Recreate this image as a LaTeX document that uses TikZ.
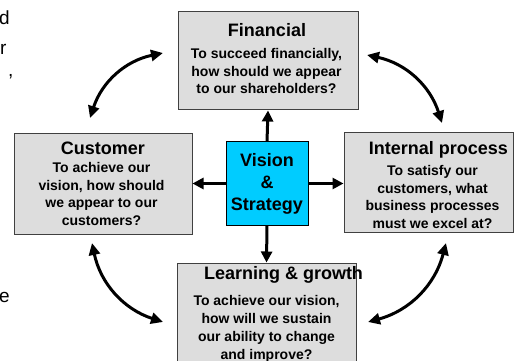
\documentclass[tikz,border=0pt]{standalone}
\usepackage{fontspec}
\setmainfont{Liberation Sans}
\usetikzlibrary{arrows.meta}

\definecolor{boxgray}{HTML}{DDDDDD}
\definecolor{boxline}{HTML}{404040}
\definecolor{visioncyan}{HTML}{00CCFF}

\newcommand{\heading}[3] % x, y, title
{
	\node[heading] at (#1,#2) {#3};
}
\newcommand{\question}[3] % x, y, question text
{
	\node[question] at (#1,#2) {#3};
}

\begin{document}
\begin{tikzpicture}[x=1pt, y=-1pt,
	persp/.style={draw=boxline, fill=boxgray, line width=1pt, inner sep=0pt},
	heading/.style={inner sep=0pt, font=\fontsize{18}{22}\selectfont\bfseries},
	question/.style={inner sep=0pt, align=center, font=\fontsize{14}{17.8}\selectfont\bfseries},
	straight/.style={line width=3pt, -{Triangle[length=11pt,width=11pt]}},
	curved/.style={line width=3pt, {Triangle[length=12pt,width=11pt]}-{Triangle[length=12pt,width=11pt]}},
	cut/.style={inner sep=0pt, anchor=base west, font=\fontsize{19}{22}\selectfont}]
	% page 515 x 361
	\useasboundingbox (0,0) rectangle (515,361);
	\clip (0,0) rectangle (515,361);

	% cut-off slide text on the left
	\node[cut] (cutd) at (-1,25) {d};
	\node[cut] (cutr) at (0,55) {r};
	\node[cut] (cutc) at (8,77) {,};
	\node[cut] (cute) at (-1,302) {e};

	% the four perspectives
	\node[persp, minimum width=180pt, minimum height=98pt] (fin) at (268,61) {};
	\node[persp, minimum width=178pt, minimum height=100pt] (cus) at (103,184) {};
	\node[persp, minimum width=169pt, minimum height=99pt] (int) at (428.5,182.5) {};
	\node[persp, minimum width=179pt, minimum height=117pt] (lea) at (266.5,321.5) {};

	% centre box
	\node[draw=black, fill=visioncyan, line width=1pt, minimum width=82pt, minimum height=83pt,
		align=center, font=\fontsize{18}{22}\selectfont\bfseries] (vis) at (267,183.5)
		{Vision\\\&\\Strategy};

	\heading{267}{30}{Financial};
	\question{266.5}{71}{To succeed financially,\\how should we appear\\to our shareholders?};

	\heading{103}{148}{Customer};
	\question{101.5}{194}{To achieve our\\vision, how should\\we appear to our\\customers?};

	\heading{438.5}{150}{Internal process};
	\question{432.5}{197}{To satisfy our\\customers, what\\business processes\\must we excel at?};

	\heading{283.5}{275}{Learning \& growth};
	\question{266.5}{329}{To achieve our vision,\\how will we sustain\\our ability to change\\and improve?};

	% vision to perspectives
	\draw[straight] (vis.north) -- (fin.south);
	\draw[straight] (vis.west) -- (cus.east |- vis.west);
	\draw[straight] (vis.east) -- (int.west |- vis.east);
	\draw[straight] (vis.south) -- (lea.north);

	% round the cycle
	\coordinate (tla) at (90,118);
	\coordinate (tlb) at (163,53);
	\coordinate (tra) at (367,55);
	\coordinate (trb) at (442,123);
	\coordinate (bra) at (446,243);
	\coordinate (brb) at (368,322);
	\coordinate (bla) at (163,322);
	\coordinate (blb) at (92,243);
	\draw[curved] (tla) to[bend left=30] (tlb);
	\draw[curved] (tra) to[bend left=30] (trb);
	\draw[curved] (bra) to[bend left=30] (brb);
	\draw[curved] (bla) to[bend left=30] (blb);
\end{tikzpicture}
\end{document}
